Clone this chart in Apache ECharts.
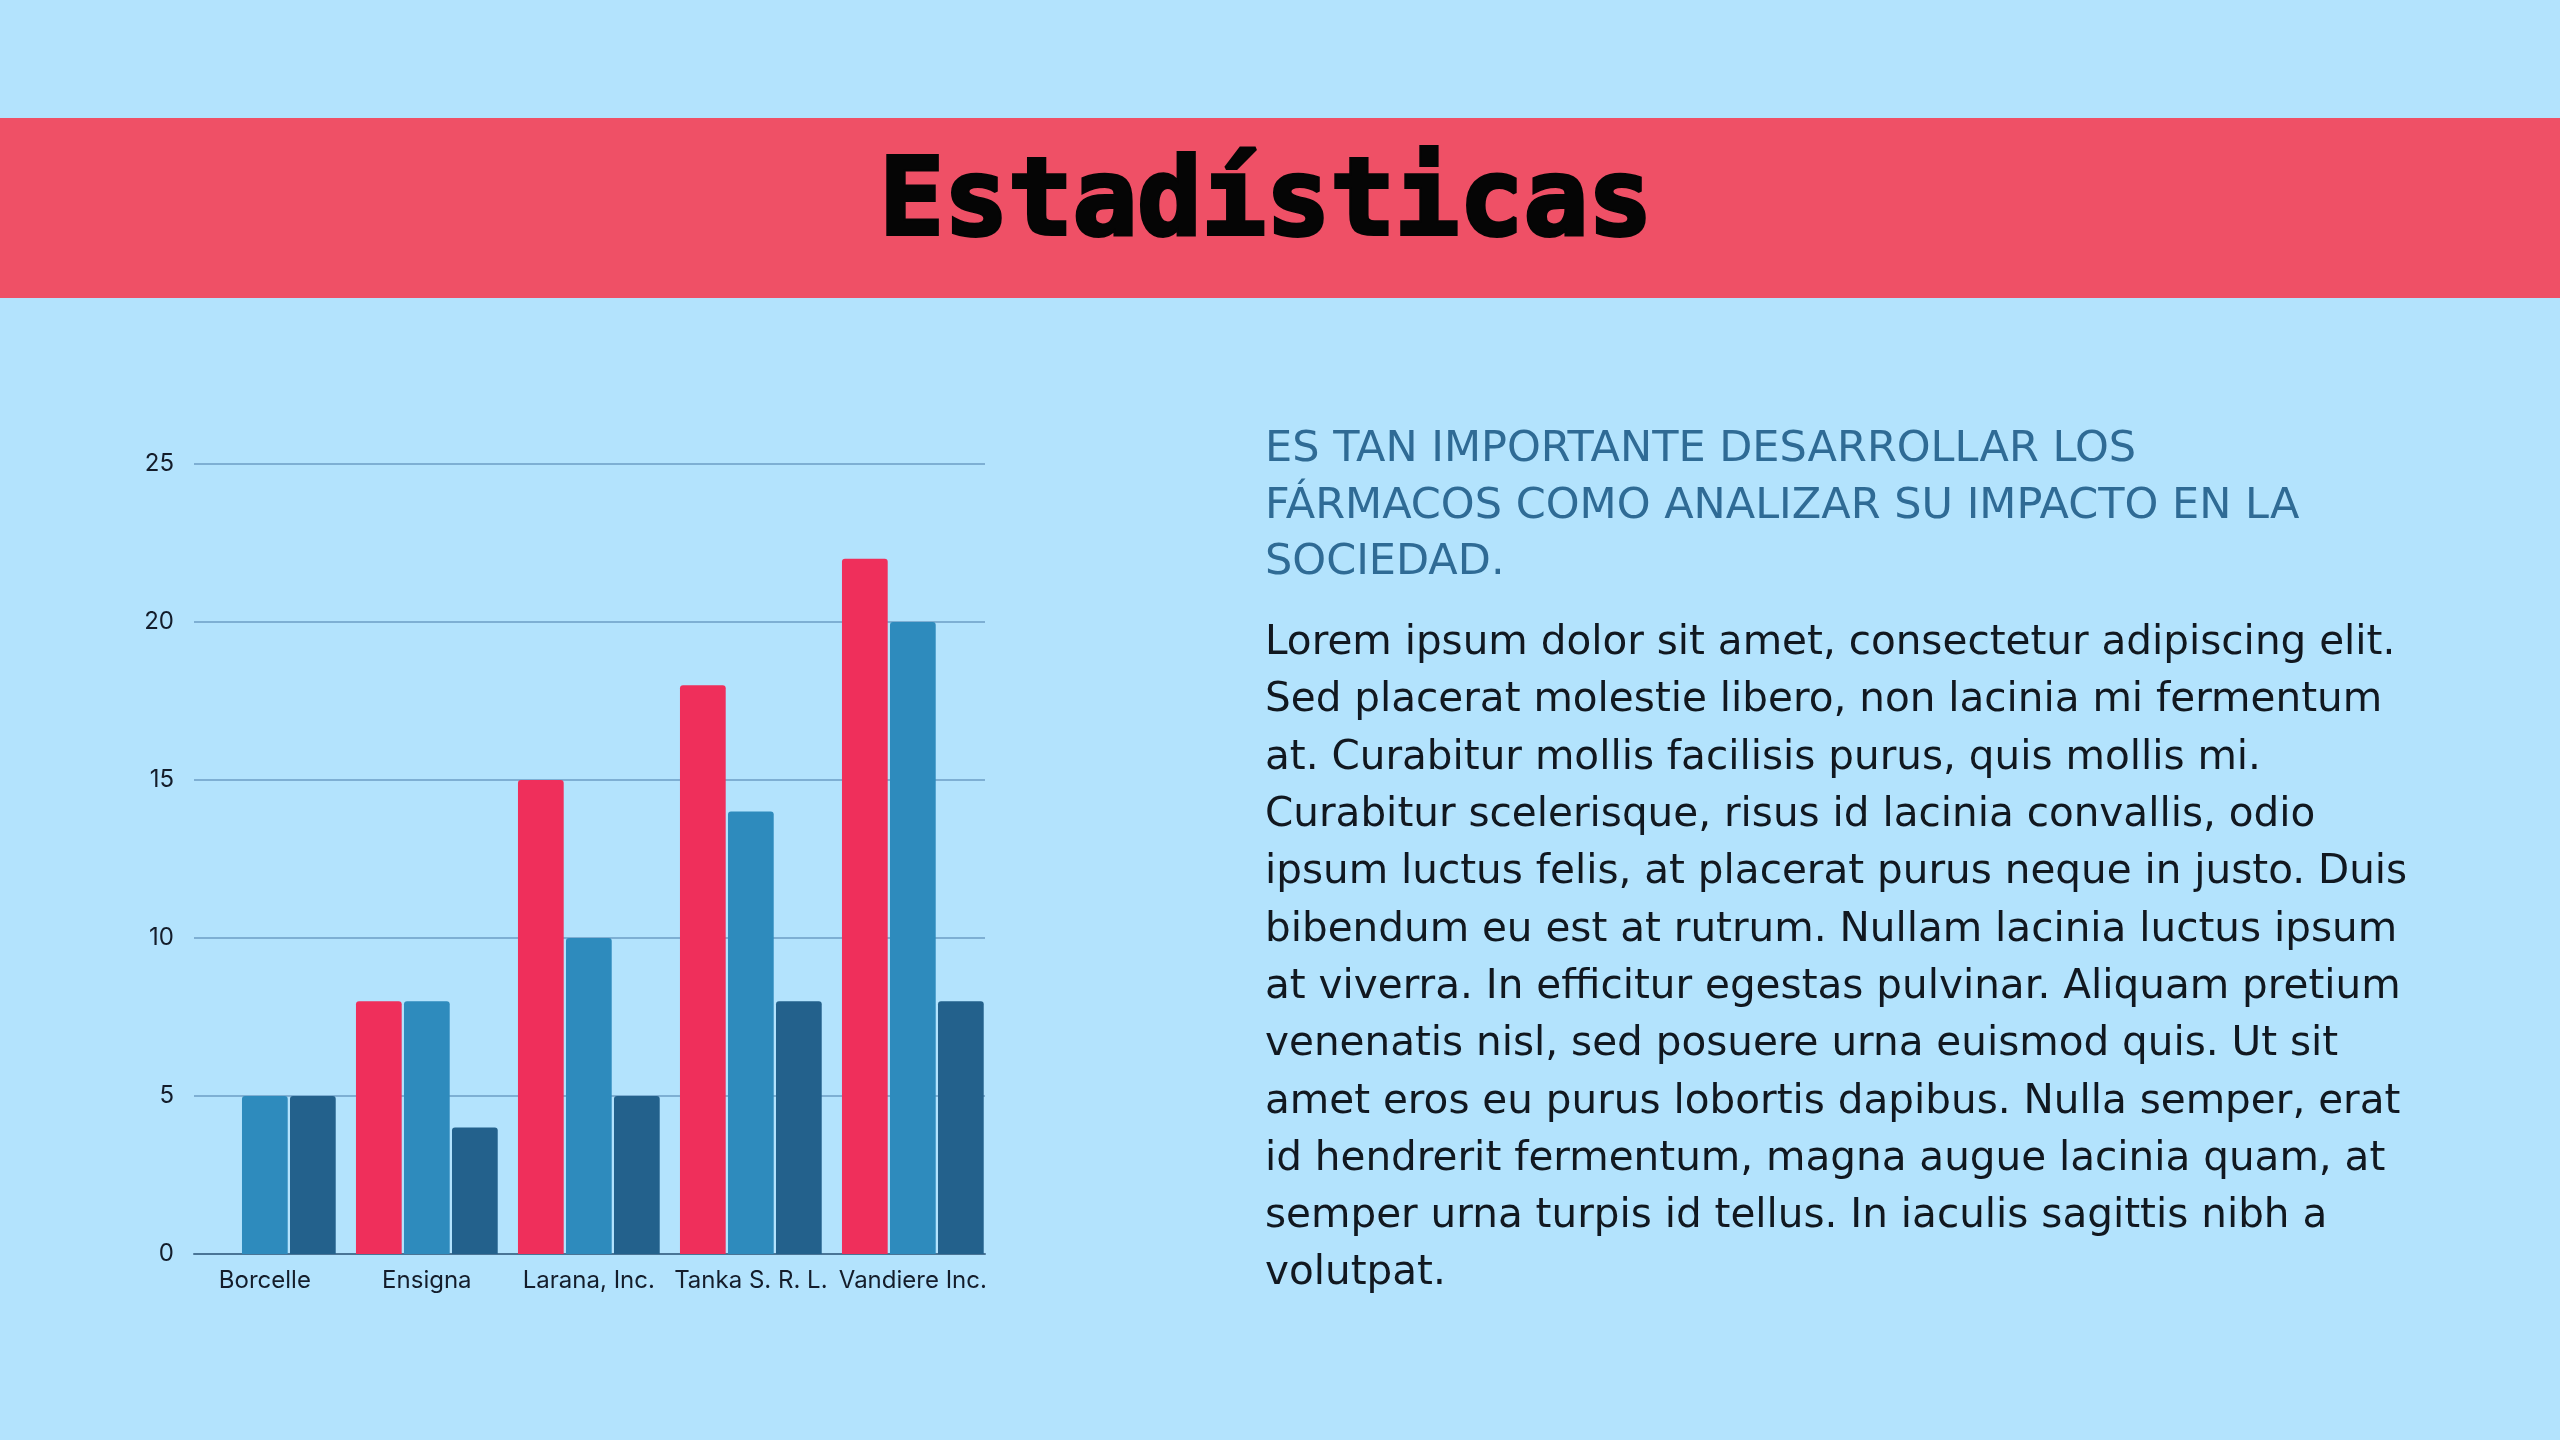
<!DOCTYPE html>
<html>
<head>
<meta charset="utf-8">
<script src="https://cdn.jsdelivr.net/npm/echarts@6/dist/echarts.min.js"></script>
<style>
html,body{margin:0;padding:0;background:#b3e3fd;}
#c{width:2560px;height:1440px;}
</style>
</head>
<body>
<div id="c"></div>
<script>
const categories = ['Borcelle', 'Ensigna', 'Larana, Inc.', 'Tanka S. R. L.', 'Vandiere Inc.'];
const serie1 = [0, 8, 15, 18, 22];
const serie2 = [5, 8, 10, 14, 20];
const serie3 = [5, 4, 5, 8, 8];
const yTicks = [0, 5, 10, 15, 20, 25];

const titleText = 'Estadísticas';
const headingLines = [
  'ES TAN IMPORTANTE DESARROLLAR LOS',
  'FÁRMACOS COMO ANALIZAR SU IMPACTO EN LA',
  'SOCIEDAD.'
];
const bodyLines = [
  'Lorem ipsum dolor sit amet, consectetur adipiscing elit.',
  'Sed placerat molestie libero, non lacinia mi fermentum',
  'at. Curabitur mollis facilisis purus, quis mollis mi.',
  'Curabitur scelerisque, risus id lacinia convallis, odio',
  'ipsum luctus felis, at placerat purus neque in justo. Duis',
  'bibendum eu est at rutrum. Nullam lacinia luctus ipsum',
  'at viverra. In efficitur egestas pulvinar. Aliquam pretium',
  'venenatis nisl, sed posuere urna euismod quis. Ut sit',
  'amet eros eu purus lobortis dapibus. Nulla semper, erat',
  'id hendrerit fermentum, magna augue lacinia quam, at',
  'semper urna turpis id tellus. In iaculis sagittis nibh a',
  'volutpat.'
];

const chart = echarts.init(document.getElementById('c'));
const labelFont = 'Inter, "Noto Sans", sans-serif';
const barCommon = { type: 'bar', xAxisIndex: 0, yAxisIndex: 0, barGap: '5%', barCategoryGap: '12.5%' };

chart.setOption({
  backgroundColor: '#b3e3fd',
  animation: false,
  graphic: [
    { type: 'rect', left: 0, top: 118, shape: { width: 2560, height: 180 }, style: { fill: '#ef5066' }, z: 0 },
    { type: 'text', x: 1266, y: 206, style: {
        text: titleText, fill: '#050505', stroke: '#050505', lineWidth: 4,
        font: 'bold 107px "DejaVu Sans Mono", monospace',
        textAlign: 'center', textVerticalAlign: 'middle' }, z: 5 },
    { type: 'text', x: 1265, y: 422, style: {
        text: headingLines.join('\n'), fill: '#2f6b95',
        font: '43px "DejaVu Sans", sans-serif', lineHeight: 56.5,
        textAlign: 'left', textVerticalAlign: 'top' }, z: 5 },
    { type: 'text', x: 1265, y: 615, style: {
        text: bodyLines.join('\n'), fill: '#111820',
        font: '40.5px "DejaVu Sans", sans-serif', lineHeight: 57.3,
        textAlign: 'left', textVerticalAlign: 'top' }, z: 5 }
  ],
  grid: [
    { left: 183.85, width: 810, top: 464, height: 790 },
    { left: 194, width: 791, top: 464, height: 790 }
  ],
  xAxis: [
    { type: 'category', gridIndex: 0, data: categories,
      axisLine: { show: false }, axisTick: { show: false },
      axisLabel: { interval: 0, color: '#141d2b', fontFamily: labelFont, fontSize: 24, margin: 15 } },
    { type: 'value', gridIndex: 1, min: 0, max: 1,
      axisLine: { show: true, onZero: false, lineStyle: { color: '#4a7596', width: 2 } },
      axisTick: { show: false }, axisLabel: { show: false }, splitLine: { show: false } }
  ],
  yAxis: [
    { type: 'value', gridIndex: 0, min: 0, max: 25, interval: 5, show: false, splitLine: { show: false } },
    { type: 'value', gridIndex: 1, min: yTicks[0], max: yTicks[yTicks.length - 1], interval: 5,
      axisLine: { show: false }, axisTick: { show: false },
      axisLabel: { color: '#141d2b', fontFamily: labelFont, fontSize: 24, margin: 20 },
      splitLine: { show: true, lineStyle: { color: '#6d9ec4', width: 1.5 } } }
  ],
  series: [
    Object.assign({ name: 'Serie 1', data: serie1, itemStyle: { color: '#ef2f5b', borderRadius: [3, 3, 0, 0] } }, barCommon),
    Object.assign({ name: 'Serie 2', data: serie2, itemStyle: { color: '#2e8bbd', borderRadius: [3, 3, 0, 0] } }, barCommon),
    Object.assign({ name: 'Serie 3', data: serie3, itemStyle: { color: '#23618c', borderRadius: [3, 3, 0, 0] } }, barCommon)
  ]
});
</script>
</body>
</html>
